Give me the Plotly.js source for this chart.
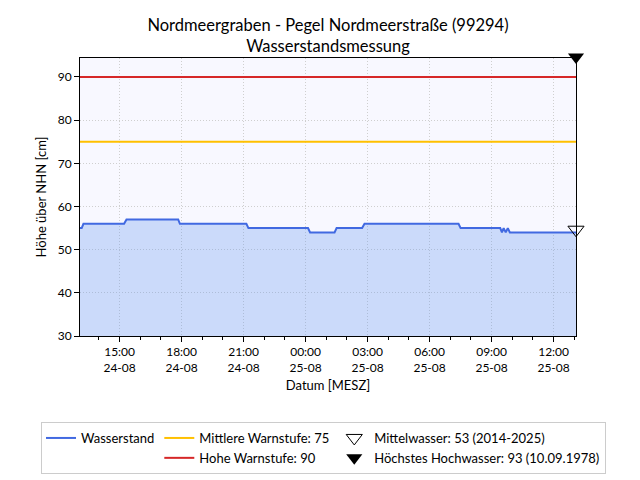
<!DOCTYPE html>
<html>
<head>
<meta charset="utf-8">
<script src="https://cdn.plot.ly/plotly-3.0.1.min.js"></script>
<style>
  html, body { margin: 0; padding: 0; background: #fff; }
  #chart { width: 640px; height: 480px; }
</style>
</head>
<body>
<div id="chart"></div>
<script>
  "use strict";

  const FONT = "Lato, 'Open Sans', sans-serif";

  // Wasserstand (step changes)
  const times = [
    "2025-08-24 13:05", "2025-08-24 13:10", "2025-08-24 13:15",
    "2025-08-24 15:13", "2025-08-24 15:20",
    "2025-08-24 17:50", "2025-08-24 17:55",
    "2025-08-24 21:08", "2025-08-24 21:14",
    "2025-08-25 00:07", "2025-08-25 00:13",
    "2025-08-25 01:24", "2025-08-25 01:30",
    "2025-08-25 02:44", "2025-08-25 02:51",
    "2025-08-25 07:24", "2025-08-25 07:30",
    "2025-08-25 09:25", "2025-08-25 09:30", "2025-08-25 09:35",
    "2025-08-25 09:41", "2025-08-25 09:47", "2025-08-25 09:53",
    "2025-08-25 13:05",
  ];
  const levels = [
    55, 55, 56,
    56, 57,
    57, 56,
    56, 55,
    55, 54,
    54, 55,
    55, 56,
    56, 55,
    55, 54, 55,
    54, 55, 54,
    54,
  ];

  const warnMid = 75;
  const warnHigh = 90;
  const mittelwasser = 53;
  const hoechstesHW = 93;

  const tStart = times[0];
  const tEnd = times[times.length - 1];

  const nameMW = "Mittelwasser: " + mittelwasser + " (2014-2025)";
  const nameHHW = "Höchstes Hochwasser: " + hoechstesHW + " (10.09.1978)";

  // triangle-up turned 180° so the standoff lifts it and its tip sits on the value
  const tri = { symbol: "triangle-up", angle: 180, size: 14, standoff: 7 };
  const openTri = { symbol: "triangle-up-open", color: "#000", line: { color: "#000", width: 1 } };

  const traces = [
    {
      type: "scatter", mode: "lines", showlegend: false, hoverinfo: "skip",
      x: times, y: levels, fill: "tozeroy",
      fillcolor: "rgba(100,149,237,0.3)",
      line: { width: 0 },
    },
    {
      type: "scatter", mode: "lines", name: "Wasserstand",
      x: times, y: levels,
      line: { color: "#4169e1", width: 2 },
      legendgroup: "a",
    },
    {
      type: "scatter", mode: "lines", name: "Mittlere Warnstufe: " + warnMid,
      x: [tStart, tEnd], y: [warnMid, warnMid],
      line: { color: "#ffc000", width: 2 },
      legendgroup: "b",
    },
    {
      type: "scatter", mode: "lines", name: "Hohe Warnstufe: " + warnHigh,
      x: [tStart, tEnd], y: [warnHigh, warnHigh],
      line: { color: "#d62728", width: 2 },
      legendgroup: "b",
    },
    // the drawn markers (no legend entry, standoff would shift the legend symbol)
    {
      type: "scatter", mode: "markers", showlegend: false, name: nameMW,
      x: [tEnd], y: [mittelwasser], cliponaxis: false,
      marker: Object.assign({}, tri, openTri),
    },
    {
      type: "scatter", mode: "markers", showlegend: false, name: nameHHW,
      x: [tEnd], y: [hoechstesHW], cliponaxis: false,
      marker: Object.assign({}, tri, { color: "#000" }),
    },
    // legend entries only
    {
      type: "scatter", mode: "markers", name: nameMW,
      x: [null], y: [null],
      marker: { symbol: "triangle-down-open", size: 14, color: "#000", line: { color: "#000", width: 1 } },
      legendgroup: "c",
    },
    {
      type: "scatter", mode: "markers", name: nameHHW,
      x: [null], y: [null],
      marker: { symbol: "triangle-down", size: 14, color: "#000" },
      legendgroup: "c",
    },
  ];

  const axisCommon = {
    showline: true, mirror: true, linecolor: "#000", linewidth: 1,
    ticks: "outside", ticklen: 5, tickcolor: "#000",
    gridcolor: "#cfcfcf", griddash: "1px,2px", gridwidth: 1,
    zeroline: false,
    tickfont: { family: FONT, size: 12, color: "#000" },
  };

  const layout = {
    width: 640, height: 480,
    paper_bgcolor: "#fff", plot_bgcolor: "#f8f8ff",
    font: { family: FONT, color: "#000" },
    margin: { l: 80, r: 64, t: 58, b: 144, autoexpand: false },
    title: {
      text: "Nordmeergraben - Pegel Nordmeerstraße (99294)<br>Wasserstandsmessung",
      font: { family: FONT, size: 16.5, color: "#000" },
      x: 0.5, xref: "paper", xanchor: "center",
      y: 1 - 31 / 480, yanchor: "top",
    },
    xaxis: Object.assign({}, axisCommon, {
      type: "date",
      range: [tStart, tEnd],
      tick0: "2025-08-24 00:00", dtick: 3 * 3600 * 1000,
      tickformat: "%H:%M<br>%d-%m",
      minor: { dtick: 3600 * 1000, ticks: "outside", ticklen: 3, tickcolor: "#000", showgrid: false },
      title: { text: "Datum [MESZ]", font: { family: FONT, size: 13 }, standoff: 6 },
    }),
    yaxis: Object.assign({}, axisCommon, {
      range: [30, 94.4], dtick: 10,
      title: { text: "Höhe über NHN [cm]", font: { family: FONT, size: 13 }, standoff: 8 },
    }),
    showlegend: true,
    legend: {
      orientation: "h", traceorder: "grouped",
      x: (41 - 80) / 496, xanchor: "left",
      y: -(422 - 336) / 278, yanchor: "top",
      bgcolor: "#fff", bordercolor: "#cccccc", borderwidth: 1,
      font: { family: FONT, size: 13, color: "#000" },
      tracegroupgap: 20,
    },
  };

  Plotly.newPlot("chart", traces, layout, { displayModeBar: false, staticPlot: true });
</script>
</body>
</html>
